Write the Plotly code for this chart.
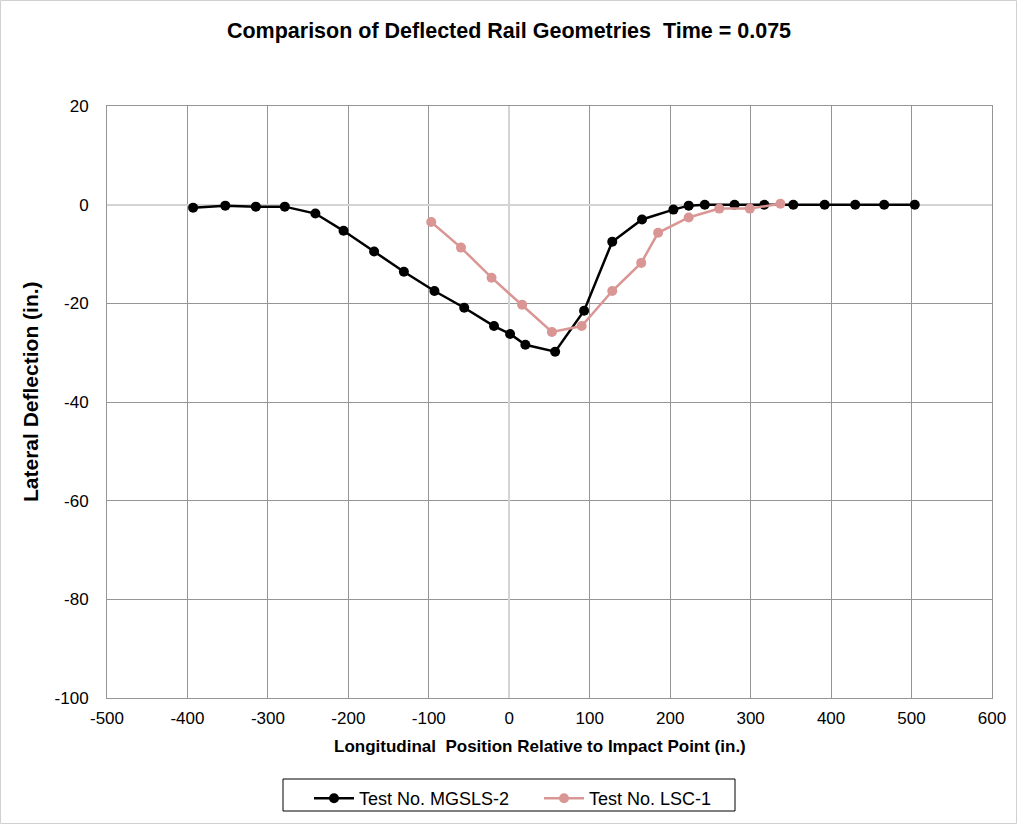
import plotly.graph_objects as go

mgsls_x = [-393, -353, -315, -279, -241, -206, -168, -131, -93, -56, -19, 1, 20, 57, 93, 128, 165, 204, 223, 243, 280, 317, 353, 392, 430, 466, 504]
mgsls_y = [-0.6, -0.2, -0.4, -0.4, -1.8, -5.3, -9.5, -13.6, -17.5, -20.9, -24.6, -26.2, -28.4, -29.8, -21.5, -7.5, -3.0, -1.0, -0.2, 0.0, 0.0, 0.0, 0.0, 0.0, 0.0, 0.0, 0.0]
lsc_x = [-97, -60, -22, 16, 53, 90, 128, 164, 185, 223, 261, 299, 337]
lsc_y = [-3.5, -8.7, -14.8, -20.3, -25.8, -24.6, -17.5, -11.8, -5.7, -2.6, -0.8, -0.8, 0.2]

x_ticks = [-500, -400, -300, -200, -100, 0, 100, 200, 300, 400, 500, 600]
y_ticks = [-100, -80, -60, -40, -20, 0, 20]

FONT = "Liberation Sans, Arial, sans-serif"

fig = go.Figure()
fig.add_trace(go.Scatter(x=mgsls_x, y=mgsls_y, mode="lines+markers", name="Test No. MGSLS-2",
                         line=dict(color="black", width=2.5), marker=dict(color="black", size=10)))
fig.add_trace(go.Scatter(x=lsc_x, y=lsc_y, mode="lines+markers", name="Test No. LSC-1",
                         line=dict(color="#D99694", width=2.5), marker=dict(color="#D99694", size=10)))

W, H = 1018, 825
L, R, T, B = 107, 26, 106, 127
pw, ph = W - L - R, H - T - B


def px_x(p):
    return (p - L) / pw


def px_y(p):
    return (H - B - p) / ph


GRID = "#959595"
ZERO = "#d4d4d4"

fig.update_layout(
    width=W, height=H, autosize=False,
    margin=dict(l=L, r=R, t=T, b=B, autoexpand=False),
    paper_bgcolor="white", plot_bgcolor="white",
    font=dict(family=FONT, size=17, color="black"),
    title=dict(text="<b>Comparison of Deflected Rail Geometries  Time = 0.075</b>",
               x=0.5, xanchor="center", y=1 - 30 / H, yanchor="middle",
               font=dict(family=FONT, size=21.5, color="black")),
    xaxis=dict(range=[-500, 600], tickvals=x_ticks, ticktext=[str(v) for v in x_ticks],
               showgrid=True, gridcolor=GRID, gridwidth=1,
               zeroline=True, zerolinecolor=ZERO, zerolinewidth=2,
               showline=True, linecolor=GRID, mirror=True,
               ticks="outside", ticklen=5, tickcolor="rgba(0,0,0,0)",
               tickfont=dict(size=17)),
    yaxis=dict(range=[-100, 20], tickvals=y_ticks, ticktext=[str(v) for v in y_ticks],
               showgrid=True, gridcolor=GRID, gridwidth=1,
               zeroline=True, zerolinecolor=ZERO, zerolinewidth=2,
               showline=True, linecolor=GRID, mirror=True,
               ticks="outside", ticklen=14, tickcolor="rgba(0,0,0,0)",
               tickfont=dict(size=17)),
    legend=dict(orientation="h", x=px_x(309), xanchor="left", y=px_y(780), yanchor="top",
                borderwidth=0, bgcolor="rgba(0,0,0,0)",
                font=dict(family=FONT, size=18), entrywidth=175, itemwidth=40),
    showlegend=True,
)

# axis titles placed as in the reference
fig.add_annotation(text="<b>Longitudinal  Position Relative to Impact Point (in.)</b>",
                   xref="paper", yref="paper", x=px_x(540), y=px_y(746),
                   xanchor="center", yanchor="middle", showarrow=False,
                   font=dict(family=FONT, size=17, color="black"))
fig.add_annotation(text="<b>Lateral Deflection (in.)</b>",
                   xref="paper", yref="paper", x=px_x(30), y=px_y(392),
                   xanchor="center", yanchor="middle", showarrow=False, textangle=-90,
                   font=dict(family=FONT, size=21, color="black"))

# legend frame
fig.add_shape(type="rect", xref="paper", yref="paper",
              x0=px_x(283), x1=px_x(735), y0=px_y(811), y1=px_y(779),
              line=dict(color="black", width=1), fillcolor="rgba(0,0,0,0)", layer="below")

# outer chart border
fig.add_shape(type="rect", xref="paper", yref="paper",
              x0=px_x(0.5), x1=px_x(W - 1.5), y0=px_y(H - 1.5), y1=px_y(0.5),
              line=dict(color="#d0d0d0", width=1), layer="below")

fig.write_html("out.html",
               config={"responsive": False, "displayModeBar": False},
               post_script="document.body.style.margin='0';document.body.style.padding='0';document.body.style.overflow='hidden';")
